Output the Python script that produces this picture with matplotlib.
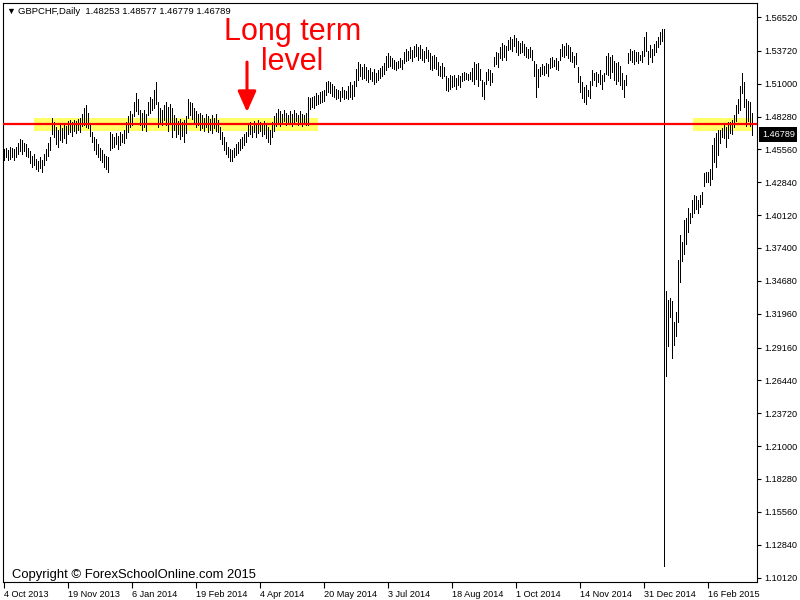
import matplotlib
matplotlib.use("Agg")
import matplotlib.pyplot as plt
from matplotlib.patches import Rectangle

# =====================================================
# DATA  (GBPCHF daily bars)
# =====================================================

highs = [
    1.456, 1.457, 1.455, 1.458, 1.457, 1.456, 1.458, 1.461, 1.464, 1.463, 1.461, 1.460, 1.457,
    1.454, 1.450, 1.452, 1.448, 1.446, 1.449, 1.447,
    1.452, 1.456, 1.461, 1.466, 1.482,
    1.478, 1.474, 1.472, 1.476, 1.473, 1.477, 1.475,
    1.479, 1.480, 1.478, 1.480, 1.479, 1.481, 1.482,
    1.485, 1.490, 1.492, 1.486, 1.476, 1.470,
    1.466, 1.464, 1.460, 1.457, 1.455, 1.452, 1.450, 1.449,
    1.470, 1.468, 1.466, 1.469, 1.467, 1.470, 1.468, 1.472,
    1.478, 1.483, 1.487, 1.485, 1.495, 1.502, 1.497,
    1.488, 1.486, 1.488, 1.485, 1.495, 1.499, 1.497, 1.505, 1.511,
    1.495, 1.490, 1.488, 1.492, 1.495, 1.491, 1.493, 1.490, 1.484,
    1.482, 1.479, 1.481, 1.478, 1.480, 1.483, 1.497, 1.495, 1.494, 1.490, 1.487, 1.485, 1.486,
    1.484, 1.482, 1.485, 1.483, 1.481, 1.484, 1.482, 1.485, 1.480,
    1.474, 1.470, 1.466, 1.462, 1.458, 1.456, 1.455, 1.457, 1.460, 1.462, 1.464, 1.466, 1.468, 1.470,
    1.476, 1.478, 1.475, 1.479, 1.477, 1.480, 1.478, 1.476, 1.479, 1.477, 1.474, 1.472, 1.478, 1.483, 1.486, 1.489,
    1.487, 1.485, 1.488, 1.486, 1.484, 1.487, 1.485, 1.488, 1.486, 1.484, 1.487, 1.485, 1.484, 1.486, 1.499,
    1.498, 1.499, 1.500, 1.502, 1.501, 1.503, 1.504, 1.505, 1.511, 1.512, 1.511, 1.510, 1.508,
    1.506, 1.505, 1.504, 1.507, 1.505, 1.504, 1.508, 1.511, 1.509, 1.512, 1.522, 1.528, 1.526, 1.524,
    1.526, 1.524, 1.521, 1.523, 1.520, 1.522, 1.519, 1.521, 1.523, 1.525, 1.527, 1.533, 1.535, 1.533, 1.531,
    1.530, 1.528, 1.529, 1.531, 1.530, 1.536, 1.539, 1.537, 1.540, 1.538, 1.541, 1.543, 1.540, 1.542, 1.539, 1.537, 1.540, 1.538,
    1.535, 1.533, 1.534, 1.532, 1.528, 1.525, 1.527, 1.524, 1.516, 1.515, 1.517, 1.516, 1.517, 1.515, 1.517, 1.516,
    1.519, 1.520, 1.519, 1.518, 1.520, 1.523, 1.528, 1.526, 1.527, 1.522, 1.513, 1.511, 1.520, 1.522, 1.521, 1.519,
    1.532, 1.536, 1.535, 1.540, 1.544, 1.542, 1.541, 1.546, 1.549, 1.547, 1.550, 1.548, 1.545, 1.544, 1.545, 1.543, 1.540, 1.539, 1.540, 1.538,
    1.529, 1.526, 1.522, 1.524, 1.526, 1.525, 1.527, 1.526, 1.531, 1.532, 1.530, 1.531, 1.529,
    1.539, 1.543, 1.541, 1.544, 1.542, 1.540, 1.536, 1.533, 1.535, 1.524, 1.516, 1.511, 1.507, 1.509, 1.505, 1.512,
    1.521, 1.519, 1.520, 1.518, 1.521, 1.517, 1.519, 1.533, 1.535, 1.532, 1.534, 1.529, 1.527, 1.528, 1.525, 1.519, 1.513, 1.517,
    1.535, 1.539, 1.537, 1.538, 1.536, 1.536, 1.534, 1.537, 1.549, 1.553, 1.537, 1.542, 1.539, 1.543, 1.545, 1.549, 1.553, 1.555, 1.555,
    1.338, 1.331, 1.333, 1.330, 1.313, 1.321, 1.364, 1.385, 1.379, 1.397, 1.399, 1.407, 1.403, 1.414, 1.418, 1.417, 1.414, 1.418, 1.420,
    1.436, 1.437, 1.437, 1.439, 1.459, 1.465, 1.469, 1.472, 1.472, 1.473, 1.476, 1.474, 1.478, 1.478, 1.480,
    1.484, 1.492, 1.497, 1.508, 1.519, 1.511, 1.497, 1.496, 1.495, 1.48577,
]

lows = [
    1.447, 1.449, 1.447, 1.448, 1.449, 1.447, 1.449, 1.452, 1.454, 1.452, 1.454, 1.450, 1.449,
    1.444, 1.441, 1.443, 1.439, 1.438, 1.440, 1.437,
    1.443, 1.447, 1.450, 1.455, 1.468,
    1.466, 1.460, 1.458, 1.463, 1.462, 1.465, 1.461,
    1.468, 1.470, 1.467, 1.471, 1.469, 1.472, 1.470,
    1.475, 1.476, 1.474, 1.473, 1.467, 1.462,
    1.455, 1.452, 1.449, 1.447, 1.445, 1.441, 1.439, 1.437,
    1.455, 1.457, 1.458, 1.460, 1.456, 1.459, 1.462, 1.461,
    1.465, 1.470, 1.474, 1.476, 1.483, 1.487, 1.485,
    1.476, 1.472, 1.474, 1.471, 1.484, 1.486, 1.488, 1.490, 1.493,
    1.474, 1.478, 1.476, 1.480, 1.476, 1.471, 1.478, 1.466, 1.472,
    1.466, 1.468, 1.464, 1.467, 1.462, 1.469, 1.482, 1.484, 1.481, 1.478, 1.474, 1.476, 1.472,
    1.473, 1.471, 1.474, 1.470, 1.472, 1.469, 1.473, 1.471, 1.470,
    1.464, 1.460, 1.455, 1.452, 1.449, 1.446, 1.446, 1.449, 1.451, 1.453, 1.455, 1.457, 1.459, 1.462,
    1.467, 1.468, 1.466, 1.470, 1.466, 1.469, 1.471, 1.467, 1.468, 1.465, 1.462, 1.460, 1.466, 1.471, 1.475, 1.477,
    1.475, 1.477, 1.479, 1.476, 1.478, 1.477, 1.475, 1.478, 1.479, 1.476, 1.478, 1.475, 1.477, 1.476, 1.476,
    1.489, 1.491, 1.490, 1.492, 1.493, 1.494, 1.495, 1.496, 1.501, 1.503, 1.502, 1.500, 1.499,
    1.497, 1.498, 1.496, 1.499, 1.497, 1.498, 1.497, 1.499, 1.497, 1.500, 1.508, 1.513, 1.516, 1.514,
    1.515, 1.513, 1.511, 1.514, 1.512, 1.510, 1.511, 1.513, 1.515, 1.516, 1.518, 1.521, 1.524, 1.525, 1.523,
    1.522, 1.521, 1.523, 1.524, 1.522, 1.527, 1.529, 1.530, 1.531, 1.529, 1.532, 1.533, 1.530, 1.531, 1.530, 1.528, 1.531, 1.529,
    1.522, 1.521, 1.523, 1.522, 1.517, 1.516, 1.515, 1.516, 1.505, 1.504, 1.506, 1.507, 1.508, 1.506, 1.509, 1.507,
    1.512, 1.513, 1.514, 1.513, 1.514, 1.512, 1.510, 1.514, 1.508, 1.513, 1.500, 1.497, 1.510, 1.513, 1.509, 1.511,
    1.525, 1.526, 1.524, 1.531, 1.530, 1.532, 1.530, 1.538, 1.539, 1.537, 1.541, 1.536, 1.534, 1.535, 1.536, 1.534, 1.532, 1.531, 1.532, 1.530,
    1.516, 1.499, 1.507, 1.516, 1.518, 1.517, 1.519, 1.516, 1.523, 1.524, 1.525, 1.522, 1.521,
    1.530, 1.533, 1.532, 1.534, 1.531, 1.529, 1.528, 1.524, 1.526, 1.511, 1.503, 1.498, 1.495, 1.493, 1.500, 1.498,
    1.509, 1.513, 1.508, 1.511, 1.510, 1.506, 1.512, 1.518, 1.517, 1.515, 1.520, 1.513, 1.510, 1.512, 1.509, 1.506, 1.499, 1.509,
    1.527, 1.530, 1.528, 1.526, 1.529, 1.527, 1.530, 1.528, 1.533, 1.537, 1.526, 1.532, 1.528, 1.534, 1.536, 1.540, 1.543, 1.545, 1.111,
    1.268, 1.293, 1.317, 1.283, 1.294, 1.301, 1.313, 1.346, 1.363, 1.369, 1.377, 1.387, 1.395, 1.400, 1.403, 1.406, 1.403, 1.408, 1.410,
    1.425, 1.429, 1.429, 1.426, 1.431, 1.445, 1.441, 1.451, 1.461, 1.466, 1.465, 1.458, 1.465, 1.469, 1.468,
    1.474, 1.479, 1.486, 1.488, 1.502, 1.491, 1.475, 1.479, 1.475, 1.46779,
]

last_open = 1.48253
last_close = 1.46789
level_price = 1.4768

price_ticks = [1.56520, 1.53720, 1.51000, 1.48280, 1.45560, 1.42840, 1.40120,
               1.37400, 1.34680, 1.31960, 1.29160, 1.26440, 1.23720, 1.21000,
               1.18280, 1.15560, 1.12840, 1.10120]

date_labels = ["4 Oct 2013", "19 Nov 2013", "6 Jan 2014", "19 Feb 2014",
               "4 Apr 2014", "20 May 2014", "3 Jul 2014", "18 Aug 2014",
               "1 Oct 2014", "14 Nov 2014", "31 Dec 2014", "16 Feb 2015"]
BARS_PER_LABEL = 32

n = min(len(highs), len(lows))
bars = list(range(n))

# =====================================================
# FIGURE
# =====================================================

plt.rcParams["font.family"] = ["Liberation Sans", "DejaVu Sans"]

fig = plt.figure(figsize=(8, 6), dpi=100)
ax = fig.add_axes([3 / 800, 1 - 582 / 600, 754 / 800, 579 / 600])

ax.set_xlim(-0.5, 376.5)
ax.set_ylim(1.0975, 1.5768)

# yellow highlight zones around the level
ax.add_patch(Rectangle((15, 1.4708), 142, 0.0112, facecolor="#ffff66",
                       edgecolor="none", zorder=1))
ax.add_patch(Rectangle((344.5, 1.4708), 30, 0.0112, facecolor="#ffff66",
                       edgecolor="none", zorder=1))

# high-low bars, crisp 1px like the terminal draws them
ax.vlines(bars, lows[:n], highs[:n], color="black", lw=0.65,
          antialiased=False, zorder=2)

# long term level
ax.axhline(level_price, color="#ff0000", lw=1.6, zorder=3)

# =====================================================
# AXES
# =====================================================

ax.yaxis.tick_right()
ax.set_yticks(price_ticks)
ax.set_yticklabels([f"{p:.5f}" for p in price_ticks])
ax.set_xticks([k * BARS_PER_LABEL for k in range(len(date_labels))])
ax.set_xticklabels(date_labels)
for lbl in ax.get_xticklabels():
    lbl.set_horizontalalignment("left")

ax.tick_params(axis="y", direction="out", length=3, width=0.8, pad=2,
               labelsize=6.6, colors="black")
ax.tick_params(axis="x", direction="out", length=4, width=0.8, pad=1.5,
               labelsize=6.6, colors="black")
for s in ax.spines.values():
    s.set_linewidth(0.8)
    s.set_color("black")

# current price tag
ax.annotate(f"{last_close:.5f}", xy=(1.0, last_close),
            xycoords=ax.get_yaxis_transform(), xytext=(3.5, 0),
            textcoords="offset points", ha="left", va="center",
            fontsize=6.6, color="white",
            bbox=dict(boxstyle="square,pad=0.3", facecolor="black", edgecolor="none"))

# =====================================================
# TEXT
# =====================================================

fig.text(6 / 800, 1 - 11 / 600, "\u25bc", fontsize=6.5, va="center")
fig.text(18 / 800, 1 - 11 / 600,
         f"GBPCHF,Daily  {last_open:.5f} {highs[-1]:.5f} {lows[-1]:.5f} {last_close:.5f}",
         fontsize=6.8, va="center")

fig.text(12 / 800, 1 - 578 / 600, "Copyright \u00a9 ForexSchoolOnline.com 2015",
         fontsize=9.4, va="baseline")

ax.text(144.25, 1.5462, "Long term", ha="center", va="baseline",
        fontsize=22, color="#ff0000")
ax.text(144.25, 1.5213, "level", ha="center", va="baseline",
        fontsize=22, color="#ff0000")

ax.annotate("", xy=(121.5, 1.4865), xytext=(121.5, 1.5279),
            arrowprops=dict(arrowstyle="-|>,head_width=0.4,head_length=0.9",
                            color="#ff0000", lw=2.2, mutation_scale=14,
                            shrinkA=0, shrinkB=0))

fig.savefig("out.png", dpi=100)
